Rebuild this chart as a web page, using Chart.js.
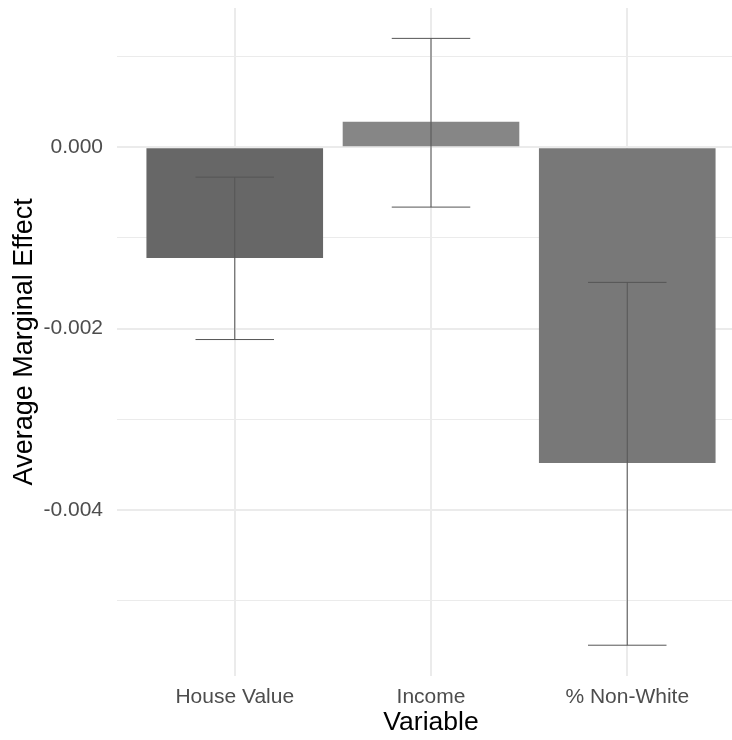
<!DOCTYPE html>
<html><head><meta charset="utf-8">
<script src="https://cdn.jsdelivr.net/npm/chart.js@4/dist/chart.umd.min.js"></script>
<style>html,body{margin:0;padding:0;background:#fff;overflow:hidden}#wrap{width:732px;height:740px;overflow:hidden}</style>
</head><body><div id="wrap"><canvas id="c" width="745" height="740"></canvas></div>
<script>
const categories = ['House Value', 'Income', '% Non-White'];
const effects = [-0.00122, 0.00028, -0.00348];
const lowerCI = [-0.00212, -0.00066, -0.00549];
const upperCI = [-0.00033, 0.00120, -0.00149];
const barColors = ['#676767', '#868686', '#787878'];
const yTickValues = [0.001, 0, -0.001, -0.002, -0.003, -0.004, -0.005];
const yLabeled = [0, -0.002, -0.004];

const isLabeled = v => yLabeled.some(t => Math.abs(t - v) < 1e-9);

const errorBars = {
  id: 'errorBars',
  afterDatasetsDraw(chart) {
    const {ctx, scales: {x, y}} = chart;
    ctx.save();
    ctx.strokeStyle = '#555555';
    ctx.lineWidth = 1;
    categories.forEach((c, i) => {
      const px = x.getPixelForValue(i + 1);
      const hw = x.getPixelForValue(i + 1.2) - px;
      const yl = y.getPixelForValue(lowerCI[i]);
      const yu = y.getPixelForValue(upperCI[i]);
      ctx.beginPath();
      ctx.moveTo(px, yu); ctx.lineTo(px, yl);
      ctx.moveTo(px - hw, yu); ctx.lineTo(px + hw, yu);
      ctx.moveTo(px - hw, yl); ctx.lineTo(px + hw, yl);
      ctx.stroke();
    });
    ctx.restore();
  }
};

new Chart(document.getElementById('c'), {
  type: 'bar',
  data: {
    datasets: [{
      data: categories.map((c, i) => ({x: i + 1, y: effects[i]})),
      backgroundColor: barColors,
      borderWidth: 0,
      categoryPercentage: 0.9,
      barPercentage: 1.0
    }]
  },
  options: {
    responsive: false,
    animation: false,
    devicePixelRatio: 1,
    layout: {padding: {top: 8, right: 0, left: 0, bottom: 0}},
    plugins: {legend: {display: false}, tooltip: {enabled: false}},
    scales: {
      x: {
        type: 'linear',
        offset: false,
        min: 0.4,
        max: 3.6,
        afterBuildTicks: s => { s.ticks = categories.map((c, i) => ({value: i + 1})); },
        afterFit: s => { s.height = 64.4; s.paddingLeft = 0; s.paddingRight = 0; },
        ticks: {
          autoSkip: false, maxRotation: 0, padding: 9,
          callback: v => categories[Math.round(v) - 1],
          font: {family: 'Liberation Sans', size: 21},
          color: '#4d4d4d'
        },
        grid: {color: '#ebebeb', lineWidth: 2, drawTicks: false, offset: false},
        border: {display: false},
        title: {
          display: true, text: 'Variable', color: '#000',
          font: {family: 'Liberation Sans', size: 26.5},
          padding: {top: 0, bottom: 1}
        }
      },
      y: {
        type: 'linear',
        min: -0.005825,
        max: 0.001535,
        afterBuildTicks: s => { s.ticks = yTickValues.map(v => ({value: v})); },
        afterFit: s => { s.width = 117; s.paddingTop = 0; s.paddingBottom = 0; },
        ticks: {
          padding: 14,
          callback: v => isLabeled(v) ? (Math.abs(v) < 1e-9 ? '0.000' : v.toFixed(3)) : '',
          font: {family: 'Liberation Sans', size: 21},
          color: '#4d4d4d'
        },
        grid: {
          color: '#ebebeb',
          lineWidth: ctx => (ctx.tick && isLabeled(ctx.tick.value)) ? 2 : 1,
          drawTicks: false
        },
        border: {display: false},
        title: {
          display: true, text: 'Average Marginal Effect', color: '#000',
          font: {family: 'Liberation Sans', size: 27},
          padding: {top: 8, bottom: 0}
        }
      }
    }
  },
  plugins: [errorBars]
});
</script>
</body></html>
